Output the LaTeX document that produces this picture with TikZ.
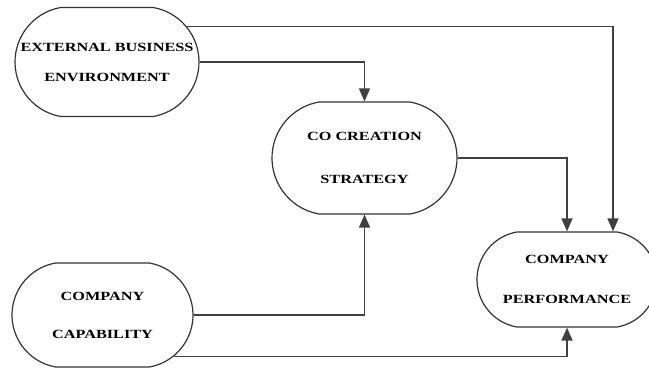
\documentclass[tikz,border=0pt]{standalone}
\usepackage{fontspec}
\newfontfamily\boxfont[FakeStretch=1.3]{Liberation Serif}
\usetikzlibrary{arrows.meta,shapes.misc}
\begin{document}
\begin{tikzpicture}[x=1pt,y=-1pt,
  box/.style={rounded rectangle, rounded rectangle arc length=160, draw=black!80, line width=1.2pt,
    align=center, inner sep=0pt, font=\boxfont\bfseries\fontsize{12.5}{14.5}\selectfont},
  link/.style={draw=black!75, line width=1.5pt, -{Triangle[length=13pt,width=11pt]}}]
\useasboundingbox (0,0) rectangle (649,369);
\node[box, minimum width=184pt, minimum height=109pt] (ebe) at (107,62){EXTERNAL BUSINESS\\[15.5pt]ENVIRONMENT};
\node[box, minimum width=185pt, minimum height=112pt] (cos) at (364.5,158){CO CREATION\\[28.5pt]STRATEGY};
\node[box, minimum width=181pt, minimum height=104pt] (cap) at (102.5,315){COMPANY\\[23.5pt]CAPABILITY};
\node[box, minimum width=180pt, minimum height=95pt] (perf) at (567,279.5){COMPANY\\[25.5pt]PERFORMANCE};
\draw[link](ebe.24) -| ([xshift=46pt]perf.north);
\draw[link](ebe.east) -| (cos.north);
\draw[link](cos.east) -| (perf.north);
\draw[link](cap.east) -| (cos.south);
\draw[link](cap.-30) -| (perf.south);
\end{tikzpicture}
\end{document}
